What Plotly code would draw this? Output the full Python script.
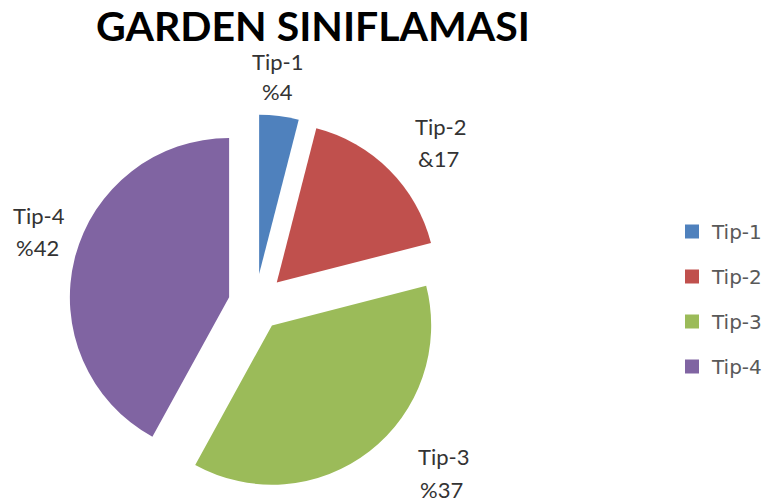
import plotly.graph_objects as go

# ---- data ----
categories = ["Tip-1", "Tip-2", "Tip-3", "Tip-4"]
values = [4, 17, 37, 42]
value_prefix = ["%", "&", "%", "%"]   # as written on the original chart
colors = ["#4F81BD", "#C0504D", "#9BBB59", "#8064A2"]
pulls = [0.19, 0.19, 0.17, 0.17]

title_text = "GARDEN SINIFLAMASI"

W, H = 768, 504

def px(x):
    return x / W

def py(y):
    return 1 - y / H

fig = go.Figure()

fig.add_trace(go.Pie(
    labels=categories,
    values=values,
    sort=False,
    direction="clockwise",
    rotation=0,
    pull=pulls,
    marker=dict(colors=colors, line=dict(width=0)),
    textinfo="none",
    hoverinfo="label+value",
    showlegend=False,
    domain=dict(x=[px(66), px(446)], y=[py(494), py(114)]),
))

# legend entries (one per category, spaced like the original)
for name, col in zip(categories, colors):
    fig.add_trace(go.Scatter(
        x=[None], y=[None], mode="markers", name=name, legendgroup=name,
        marker=dict(symbol="square", size=14, color=col),
        showlegend=True, hoverinfo="skip",
    ))

# outside labels: (name center, value center) positions in pixels
label_pos = [((278, 61), (278, 91)),
             ((442, 126), (440, 158)),
             ((445, 456), (443, 489)),
             ((39, 215), (38, 247))]
lab_font = dict(family="Lato, 'Open Sans', sans-serif", size=22, color="#333333")
for name, val, pre, (p1, p2) in zip(categories, values, value_prefix, label_pos):
    fig.add_annotation(x=px(p1[0]), y=py(p1[1]), xref="paper", yref="paper",
                       text=name, showarrow=False, font=lab_font,
                       xanchor="center", yanchor="middle")
    fig.add_annotation(x=px(p2[0]), y=py(p2[1]), xref="paper", yref="paper",
                       text=f"{pre}{val}", showarrow=False, font=lab_font,
                       xanchor="center", yanchor="middle")

fig.update_layout(
    width=W, height=H,
    margin=dict(l=0, r=0, t=0, b=0),
    paper_bgcolor="white", plot_bgcolor="white",
    title=dict(text=f"<b>{title_text}</b>", x=px(313), xanchor="center",
               y=py(27), yanchor="middle",
               font=dict(family="Lato, 'Open Sans', sans-serif", size=41, color="black")),
    xaxis=dict(visible=False), yaxis=dict(visible=False),
    legend=dict(x=px(674), y=py(212), xanchor="left", yanchor="top",
                tracegroupgap=16, traceorder="grouped",
                font=dict(family="'DejaVu Sans', Verdana, sans-serif", size=20, color="#595959"),
                bgcolor="rgba(0,0,0,0)"),
)

fig.write_html("out.html", config={"displayModeBar": False},
               post_script="document.body.style.margin='0';")
